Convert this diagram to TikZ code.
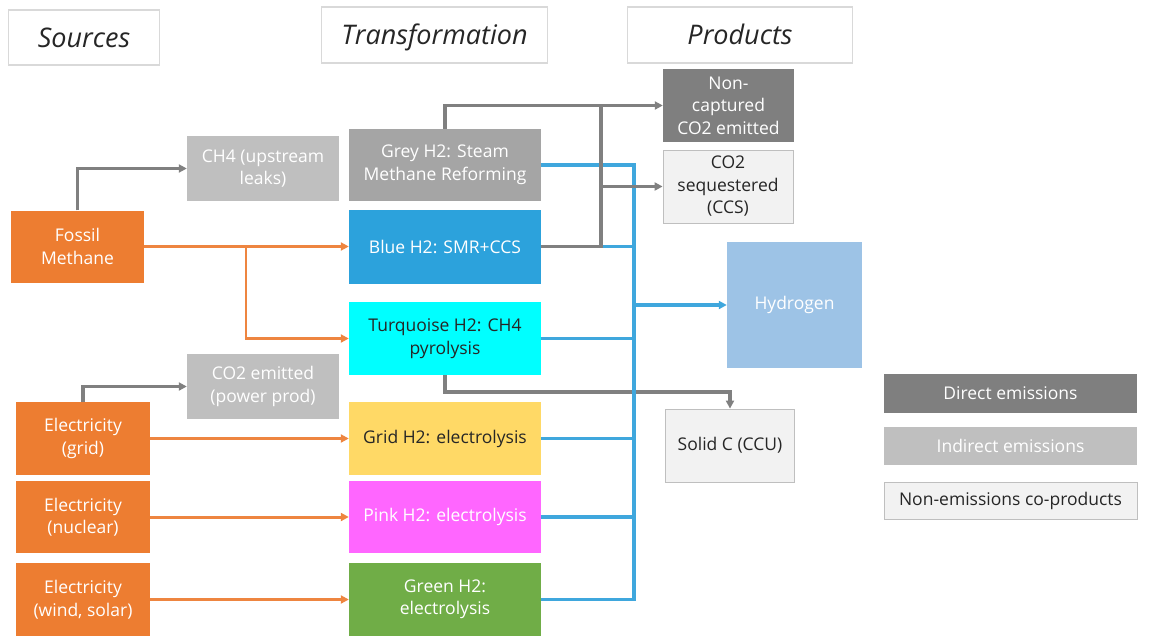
\documentclass[tikz,border=0pt]{standalone}
\usepackage{fontspec}
\setmainfont{Open Sans}
\usetikzlibrary{arrows.meta}
\definecolor{cOrange}{HTML}{ED7D31}
\definecolor{cLight}{HTML}{BFBFBF}
\definecolor{cGreyH}{HTML}{A5A5A5}
\definecolor{cBlueH}{HTML}{2CA2DC}
\definecolor{cTurq}{HTML}{00FFFF}
\definecolor{cYellow}{HTML}{FFD966}
\definecolor{cPink}{HTML}{FF66FF}
\definecolor{cGreen}{HTML}{70AD47}
\definecolor{cDark}{HTML}{7F7F7F}
\definecolor{cPale}{HTML}{F2F2F2}
\definecolor{cHyd}{HTML}{9DC3E6}
\definecolor{cHead}{HTML}{D9D9D9}
\definecolor{cText}{HTML}{262626}
\definecolor{cBline}{HTML}{3FA7DD}
\definecolor{cGline}{HTML}{808080}
\definecolor{cOline}{HTML}{EE8540}
\tikzset{
  box/.style={rectangle, inner sep=0pt, align=center, text=white,
    font=\fontsize{17.5}{22.5}\selectfont},
  darktext/.style={text=cText},
  palebox/.style={box, fill=cPale, draw=cLight, line width=0.8pt, text=cText},
  headbox/.style={rectangle, inner sep=0pt, draw=cHead, line width=1.2pt, fill=white,
    text=cText, font=\fontsize{27}{30}\selectfont\itshape,
    text height=19pt, text depth=0pt},
  tip/.style={-{Triangle[length=8pt,width=8pt]}},
  gline/.style={draw=cGline, line width=3.2pt},
  oline/.style={draw=cOline, line width=3pt},
  thinoline/.style={draw=cOline, line width=2.4pt},
  bline/.style={draw=cBline, line width=3.4pt},
}
\begin{document}
\begin{tikzpicture}[x=1pt,y=-1pt]
\useasboundingbox (0,0) rectangle (1151,635);
\fill[white] (0,0) rectangle (1151,635);

% headers
\node[headbox, minimum width=151pt, minimum height=55pt] (hsrc) at (84,37.5) {Sources};
\node[headbox, minimum width=226pt, minimum height=56pt] (htrf) at (434.5,35) {Transformation};
\node[headbox, minimum width=225pt, minimum height=56pt] (hprd) at (740,35) {Products};

% sources
\node[box, fill=cOrange, minimum width=133pt, minimum height=72pt] (fm) at (77.5,246.5) {Fossil\\Methane};
\node[box, fill=cOrange, minimum width=134pt, minimum height=73pt] (eg) at (83,438.5) {Electricity\\(grid)};
\node[box, fill=cOrange, minimum width=134pt, minimum height=72pt] (en) at (83,517) {Electricity\\(nuclear)};
\node[box, fill=cOrange, minimum width=134pt, minimum height=73pt] (ew) at (83,599.5) {Electricity\\(wind, solar)};

% indirect emissions
\node[box, fill=cLight, minimum width=152pt, minimum height=65pt] (ch4) at (263,168.5) {CH4 (upstream\\leaks)};
\node[box, fill=cLight, minimum width=152pt, minimum height=65pt] (co2p) at (263,386.5) {CO2 emitted\\(power prod)};

% transformations
\node[box, fill=cGreyH, minimum width=192pt, minimum height=72pt] (greyh) at (445,165) {Grey H2: Steam\\Methane Reforming};
\node[box, fill=cBlueH, minimum width=192pt, minimum height=74pt] (blueh) at (445,246.5) {Blue H2: SMR+CCS};
\node[box, darktext, fill=cTurq, minimum width=192pt, minimum height=73pt] (turq) at (445,338.5) {Turquoise H2: CH4\\pyrolysis};
\node[box, darktext, fill=cYellow, minimum width=192pt, minimum height=73pt] (gridh) at (445,438.5) {Grid H2: electrolysis};
\node[box, fill=cPink, minimum width=192pt, minimum height=72pt] (pinkh) at (445,517) {Pink H2: electrolysis};
\node[box, fill=cGreen, minimum width=192pt, minimum height=73pt] (greenh) at (445,599.5) {Green H2:\\electrolysis};

% products
\node[box, fill=cDark, minimum width=131pt, minimum height=73pt] (nc) at (728.5,105.5) {Non-\\captured\\CO2 emitted};
\node[palebox, minimum width=130pt, minimum height=73pt] (seq) at (728,186.5) {CO2\\sequestered\\(CCS)};
\node[box, fill=cHyd, minimum width=135pt, minimum height=126pt] (hyd) at (794.5,305) {Hydrogen};
\node[palebox, minimum width=129pt, minimum height=73pt] (solc) at (730,445.5) {Solid C (CCU)};

% legend
\node[box, fill=cDark, minimum width=253pt, minimum height=39pt] (ldir) at (1010.5,393.5) {Direct emissions};
\node[box, fill=cLight, minimum width=253pt, minimum height=38pt] (lind) at (1010.5,446) {Indirect emissions};
\node[palebox, minimum width=253pt, minimum height=37pt] (lnon) at (1010.5,500.5) {Non-emissions co-products};

% coordinates
\coordinate (ob) at (246,246.5);
\coordinate (bus) at (634,165);
\coordinate (gv) at (601,105.5);
\coordinate (tj) at (730,392);

% source connectors
\draw[gline, tip] (fm.north) |- (ch4.west);
\draw[oline, tip] (fm.east) -- (blueh.west);
\draw[thinoline, tip] (ob) |- (turq.west);
\draw[gline, tip] (eg.north) |- (co2p.west);
\draw[oline, tip] (eg.east) -- (gridh.west);
\draw[oline, tip] (en.east) -- (pinkh.west);
\draw[oline, tip] (ew.east) -- (greenh.west);

% turquoise to solid carbon
\draw[gline, tip] (turq.south) |- (tj) -- (solc.north);

% hydrogen bus
\draw[bline] (greyh.east) -- (bus) |- (greenh.east);
\draw[bline] (blueh.east) -- (blueh.east -| bus);
\draw[bline] (turq.east) -- (turq.east -| bus);
\draw[bline] (gridh.east) -- (gridh.east -| bus);
\draw[bline] (pinkh.east) -- (pinkh.east -| bus);
\draw[bline, tip] (bus |- hyd.west) -- (hyd.west);

% CO2 connectors
\draw[gline, tip] (greyh.north) |- (nc.west);
\draw[gline] (blueh.east) -| (gv);
\draw[gline, tip] (gv |- seq.west) -- (seq.west);
\end{tikzpicture}
\end{document}
